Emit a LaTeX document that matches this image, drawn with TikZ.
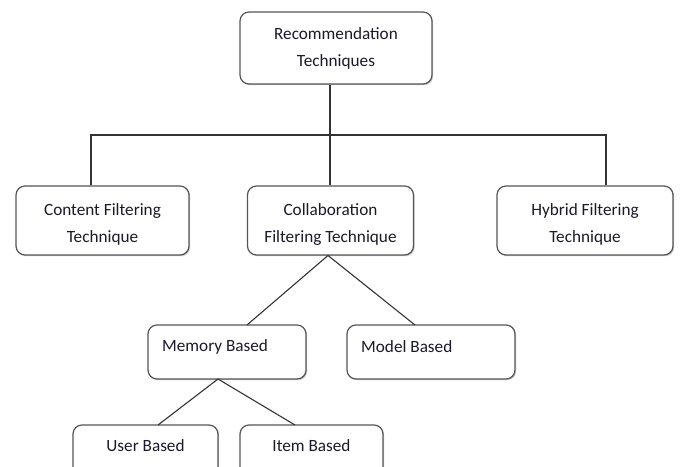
\documentclass[tikz,border=0pt]{standalone}
\usepackage{fontspec}
\setmainfont{Carlito}
\usetikzlibrary{shadows}
\definecolor{boxline}{HTML}{555555}
\definecolor{conn}{HTML}{333333}
\definecolor{txtcol}{HTML}{1A1A2A}
\newcommand{\dnstrut}{\rule{0pt}{19pt}}
\begin{document}
\begin{tikzpicture}[x=1pt,y=-1pt,
  boxst/.style={draw=boxline, line width=1.2pt, rounded corners=9pt, fill=white,
    drop shadow={shadow xshift=1.2pt, shadow yshift=-1.2pt, fill=black!35, opacity=0.6},
    inner sep=0pt, font=\fontsize{17.2}{27}\selectfont, align=center, text=txtcol},
  txt/.style={font=\fontsize{17.2}{27}\selectfont, inner sep=0pt, text=txtcol},
  conline/.style={draw=conn, line width=1.1pt}]
\useasboundingbox (0,0) rectangle (680,466);
\clip (0,0) rectangle (680,466);
% top level
\node[boxst, minimum width=192, minimum height=72] (rt) at (336,48) {Recommendation\\Techniques};
% second level
\node[boxst, minimum width=173, minimum height=69] (cf) at (102.5,220.5) {\dnstrut Content Filtering\\Technique};
\node[boxst, minimum width=166, minimum height=69] (co) at (330.5,220.5) {\dnstrut Collaboration\\Filtering Technique};
\node[boxst, minimum width=176, minimum height=69] (hf) at (585,220.5) {\dnstrut Hybrid Filtering\\Technique};
% third level
\node[boxst, minimum width=158, minimum height=54] (mem) at (227,352) {};
\node[txt, anchor=west] (memt) at (162,347) {Memory Based};
\node[boxst, minimum width=168, minimum height=54] (mod) at (431,352) {};
\node[txt, anchor=west] (modt) at (361,347) {Model Based};
% fourth level
\node[boxst, minimum width=145, minimum height=60] (ub) at (145.5,455) {};
\node[txt] (ubt) at (145.5,446) {User Based};
\node[boxst, minimum width=143, minimum height=60] (ib) at (311.5,455) {};
\node[txt] (ibt) at (311.5,446) {Item Based};
% connectors
\coordinate (bar) at (330,135);
\draw[conline] (rt.south -| bar) -- (bar);
\draw[conline] (cf.north -| 91,0) |- (606,135) -- (hf.north -| 606,0);
\draw[conline] (bar) -- (co.north -| bar);
\coordinate (cob) at (328,255.5);
\draw[conline] (cob) -- (247,325);
\draw[conline] (cob) -- (415,325);
\coordinate (memb) at (218,379);
\draw[conline] (memb) -- (158,425);
\draw[conline] (memb) -- (295,425);
\end{tikzpicture}
\end{document}
